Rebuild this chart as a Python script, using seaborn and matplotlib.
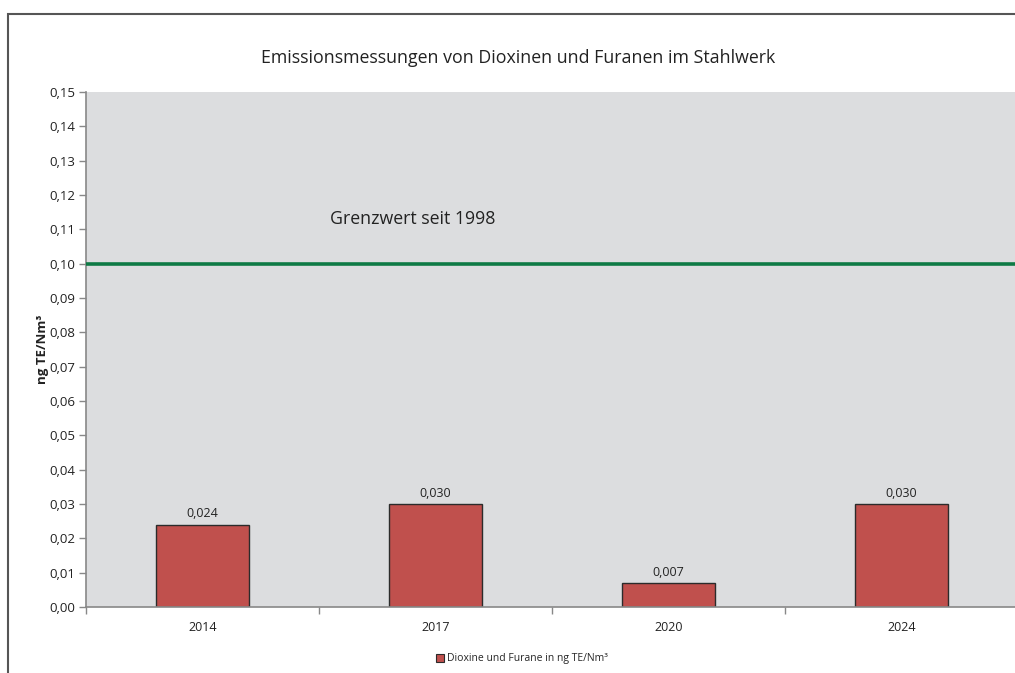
import matplotlib
matplotlib.use("Agg")
import matplotlib.pyplot as plt
import matplotlib.patches as mpatches
import seaborn as sns
import pandas as pd
from matplotlib.ticker import FixedLocator, FuncFormatter

years = ["2014", "2017", "2020", "2024"]
values = [0.024, 0.030, 0.007, 0.030]
value_labels = ["0,024", "0,030", "0,007", "0,030"]
limit_value = 0.10
limit_label = "Grenzwert seit 1998"
title = "Emissionsmessungen von Dioxinen und Furanen im Stahlwerk"
ylabel = "ng TE/Nm³"
legend_label = "Dioxine und Furane in ng TE/Nm³"

sns.set_theme(style="white")
plt.rcParams['font.family'] = ['Open Sans', 'DejaVu Sans']

df = pd.DataFrame({"Jahr": years, "Wert": values})

fig = plt.figure(figsize=(10.15, 6.73), dpi=100)
ax = fig.add_axes([86/1015, 1-607/673, (1018-86)/1015, (607-92)/673])
ax.set_facecolor("#DCDDDF")

sns.barplot(data=df, x="Jahr", y="Wert", ax=ax, color="#C0504D",
            edgecolor="#2b2b2b", linewidth=1.0, width=0.40, saturation=1)

ax.axhline(limit_value, color="#0E7A45", linewidth=2.6, zorder=3)
ax.text(-0.5 + (330-86)/233, 0.1105, limit_label, fontsize=12.8, color="#222222",
        ha="left", va="bottom")

for i, lab in enumerate(value_labels):
    ax.text(i, values[i] + 0.0012, lab, ha="center", va="bottom", fontsize=9, color="#222222")

ax.set_ylim(0, 0.15)
ax.set_xlim(-0.5, 3.5)
ax.yaxis.set_major_locator(FixedLocator([i/100 for i in range(16)]))
ax.yaxis.set_major_formatter(FuncFormatter(lambda v, p: f"{v:.2f}".replace(".", ",")))
ax.tick_params(axis="y", direction="out", length=5, width=1, color="#888888",
               labelsize=9.5, labelcolor="#222222", left=True, pad=3)
ax.tick_params(axis="x", which="major", length=0, labelsize=9, labelcolor="#222222", pad=10)
ax.xaxis.set_minor_locator(FixedLocator([-0.5, 0.5, 1.5, 2.5]))
ax.tick_params(axis="x", which="minor", bottom=True, direction="out", length=5, width=1, color="#888888")

for s in ["top", "right"]:
    ax.spines[s].set_visible(False)
for s in ["left", "bottom"]:
    ax.spines[s].set_color("#888888")
    ax.spines[s].set_linewidth(1.2)

ax.set_xlabel("")
ax.set_ylabel(ylabel, fontsize=9.5, fontweight="bold", color="#222222", labelpad=0)
fig.text(518/1015, 1-58/673, title, ha="center", va="center", fontsize=12.8, color="#222222")

handle = mpatches.Patch(facecolor="#C0504D", edgecolor="#2b2b2b", linewidth=0.8)
fig.legend([handle], [legend_label], loc="center", bbox_to_anchor=(522/1015, 1-659/673),
           frameon=False, fontsize=7.5, handlelength=0.8, handleheight=0.8, handletextpad=0.3)

border = mpatches.Rectangle((8/1015, -0.2), 1.3, (1-14/673)+0.2, transform=fig.transFigure,
                            fill=False, edgecolor="#555555", linewidth=1.5, clip_on=False)
fig.patches.append(border)

fig.savefig("out.png", dpi=100)
